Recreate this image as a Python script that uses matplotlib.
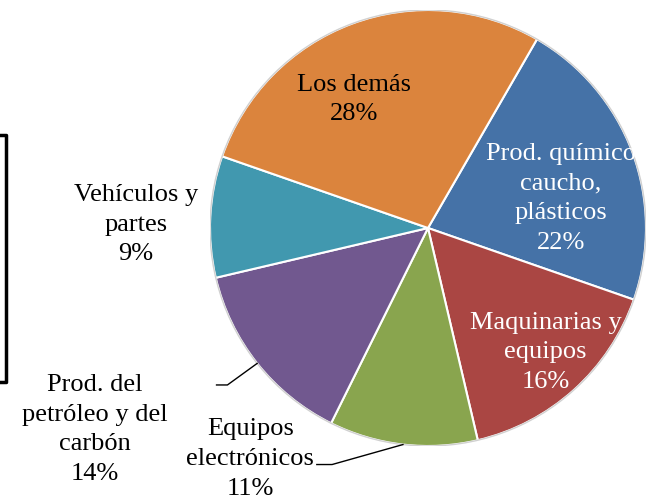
import numpy as np
import matplotlib
matplotlib.use("Agg")
from matplotlib import pyplot as plt
from matplotlib.lines import Line2D

# Data
categories = ["Prod. químico\ncaucho,\nplásticos", "Maquinarias y\nequipos",
              "Equipos\nelectrónicos", "Prod. del\npetróleo y del\ncarbón",
              "Vehículos y\npartes", "Los demás"]
shares = [22, 16, 11, 14, 9, 28]
colors = ["#4572A7", "#AA4643", "#89A54E", "#71588F", "#4198AF", "#DB843D"]
text_colors = ["white", "white", "black", "black", "black", "black"]

# label positions in pie units (center 0,0, radius 1)
label_pos = [(0.61, 0.135), (0.54, -0.57), (-0.815, -1.06),
             (-1.53, -0.925), (-1.34, 0.015), (-0.34, 0.59)]
# leader lines: (text end x, elbow x, y) for outside labels
leaders = {2: (-0.51, -0.44, -1.085), 3: (-0.97, -0.92, -0.72)}

plt.rcParams['font.family'] = ['Liberation Serif', 'DejaVu Serif']

fig = plt.figure(figsize=(6.52, 4.99), dpi=100)
cx, cy, r = 428, 228, 218
W, H = 652, 499
ax = fig.add_axes([(cx - r) / W, (H - cy - r) / H, 2 * r / W, 2 * r / H])

wedges, _ = ax.pie(shares, colors=colors, startangle=60, counterclock=False,
                   radius=1.0, wedgeprops=dict(edgecolor="white", linewidth=1.5))
# faint outer rim
ax.add_patch(plt.Circle((0, 0), 1.0, fill=False, edgecolor="#d0d0d0", linewidth=1.0))
ax.set_xlim(-1, 1)
ax.set_ylim(-1, 1)
ax.set_aspect("equal")
ax.axis("off")

for i, (w, name, v) in enumerate(zip(wedges, categories, shares)):
    x, y = label_pos[i]
    ax.text(x, y, f"{name}\n{v}%", ha="center", va="center", fontsize=19,
            color=text_colors[i], linespacing=1.45, clip_on=False)
    if i in leaders:
        ang = np.deg2rad((w.theta1 + w.theta2) / 2)
        x0, x1, yl = leaders[i]
        ax.add_line(Line2D([x0, x1, np.cos(ang)], [yl, yl, np.sin(ang)],
                           color="black", linewidth=1.0, clip_on=False))

# cut-off box border at the left edge
fig.add_artist(Line2D([0, 6 / W, 6 / W, 0],
                      [1 - 135 / H, 1 - 135 / H, 1 - 382 / H, 1 - 382 / H],
                      transform=fig.transFigure, color="black", linewidth=2.5,
                      solid_joinstyle="round"))

fig.savefig("out.png", dpi=100)
